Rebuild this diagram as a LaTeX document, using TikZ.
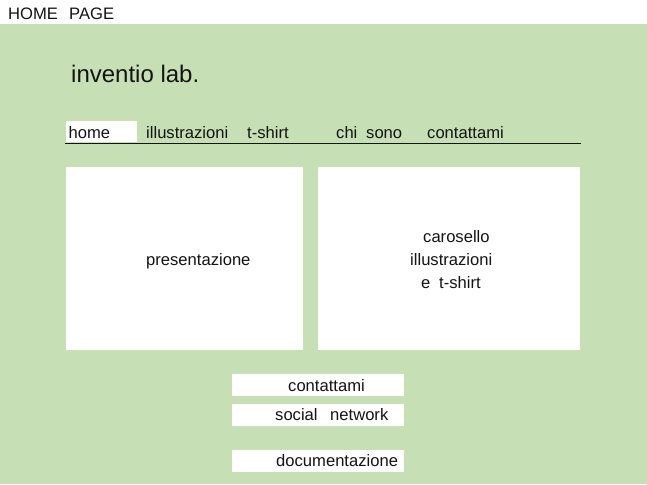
\documentclass[tikz,border=0pt]{standalone}
\usepackage{fontspec}
\setmainfont{Liberation Sans}
\definecolor{bggreen}{RGB}{199,223,180}
\definecolor{ink}{RGB}{20,20,20}
\begin{document}
\begin{tikzpicture}[x=1pt,y=-1pt,
  txt/.style={inner sep=0pt,anchor=base west,text=ink,font=\fontsize{16.6}{20}\selectfont},
  logo/.style={inner sep=0pt,anchor=base west,text=ink,font=\fontsize{24}{28}\selectfont},
  wbox/.style={fill=white,draw=none}]
\useasboundingbox (0,0) rectangle (647,484);
\fill[white] (0,0) rectangle (647,484);
\fill[bggreen] (0,24) rectangle (647,484);
% title
\node[txt] (t1) at (8,19.5) {HOME};
\node[txt] (t2) at (69,19.5) {PAGE};
% logo
\node[logo] (logo) at (71,83) {inventio lab.};
% nav
\fill[wbox] (66,121) rectangle (137,142);
\draw[ink,line width=0.9pt] (65,143) -- (581,143);
\node[txt] (n1) at (68.5,139) {home};
\node[txt] (n2) at (146,139) {illustrazioni};
\node[txt] (n3) at (247,139) {t-shirt};
\node[txt] (n4) at (336,139) {chi};
\node[txt] (n5) at (366,139) {sono};
\node[txt] (n6) at (427,139) {contattami};
% big boxes
\fill[wbox] (66,167) rectangle (303,350);
\fill[wbox] (318,167) rectangle (580,350);
\node[txt] (p) at (146,265) {presentazione};
\node[txt] (c1) at (423,242) {carosello};
\node[txt] (c2) at (410,265) {illustrazioni};
\node[txt] (c3) at (421,288) {e};
\node[txt] (c4) at (439,288) {t-shirt};
% small boxes
\fill[wbox] (232,374) rectangle (404,396);
\fill[wbox] (232,404) rectangle (404,426);
\fill[wbox] (232,450) rectangle (404,472);
\node[txt] (s1) at (288,391) {contattami};
\node[txt] (s2) at (275,420) {social};
\node[txt] (s3) at (330,420) {network};
\node[txt] (s4) at (276,466) {documentazione};
\end{tikzpicture}
\end{document}
